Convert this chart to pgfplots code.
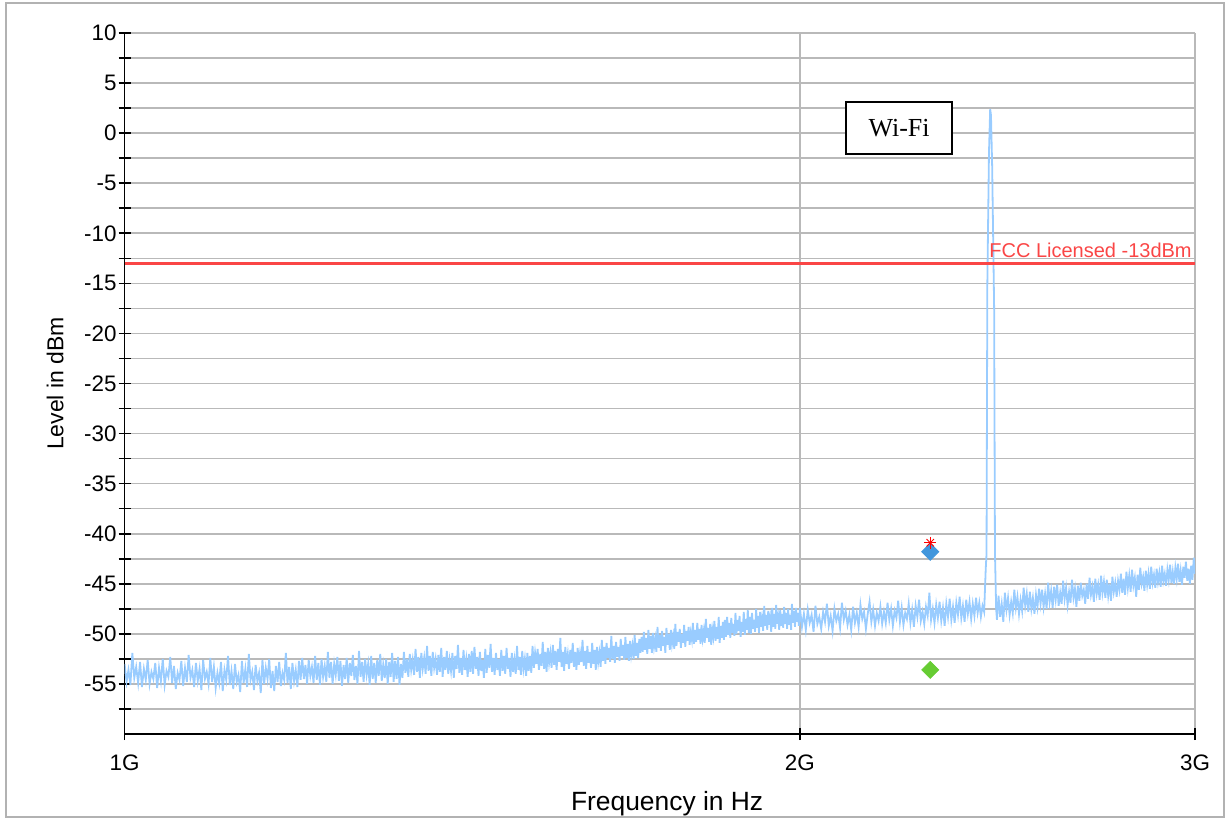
\documentclass[border=0pt]{standalone}
\usepackage{pgfplots}
\usepackage{pgfplotstable}
\pgfplotsset{compat=1.18}
\usepackage{fontspec}
\setmainfont{Liberation Sans}
\newfontfamily\seriffont{Liberation Serif}
\definecolor{tracecol}{RGB}{153,204,255}
\definecolor{gridcol}{RGB}{185,185,185}
\definecolor{fccred}{RGB}{250,70,70}
\definecolor{bluem}{RGB}{65,150,220}
\definecolor{greenm}{RGB}{102,204,51}

\pgfplotstableread[row sep=\\]{
f y \\
1000 -53.0 \\ 1002 -54.8 \\ 1004 -53.6 \\ 1006 -55.1 \\ 1008 -51.9 \\ 1010 -54.4 \\
1012 -53.3 \\ 1014 -54.9 \\ 1016 -52.8 \\ 1018 -55.3 \\ 1020 -53.5 \\ 1022 -54.6 \\
1024 -52.6 \\ 1026 -55.0 \\ 1028 -53.8 \\ 1030 -54.5 \\ 1032 -52.9 \\ 1034 -55.4 \\
1036 -53.4 \\ 1038 -54.7 \\ 1040 -52.5 \\ 1042 -55.1 \\ 1044 -53.7 \\ 1046 -54.3 \\
1048 -52.3 \\ 1050 -54.9 \\ 1052 -53.2 \\ 1054 -55.5 \\ 1056 -53.9 \\ 1058 -54.6 \\
1060 -52.7 \\ 1062 -55.2 \\ 1064 -53.4 \\ 1066 -54.8 \\ 1068 -52.1 \\ 1070 -54.4 \\
1072 -53.6 \\ 1074 -55.3 \\ 1076 -52.9 \\ 1078 -54.7 \\ 1080 -53.5 \\ 1082 -55.6 \\
1084 -52.6 \\ 1086 -54.5 \\ 1088 -53.8 \\ 1090 -55.0 \\ 1092 -52.4 \\ 1094 -54.8 \\
1096 -53.3 \\ 1098 -55.4 \\ 1100 -53.9 \\ 1102 -54.9 \\ 1104 -52.8 \\ 1106 -55.7 \\
1108 -53.6 \\ 1110 -54.6 \\ 1112 -52.2 \\ 1114 -55.1 \\ 1116 -53.7 \\ 1118 -55.5 \\
1120 -53.0 \\ 1122 -54.8 \\ 1124 -54.1 \\ 1126 -55.8 \\ 1128 -52.7 \\ 1130 -54.9 \\
1132 -53.5 \\ 1134 -55.3 \\ 1136 -52.0 \\ 1138 -54.6 \\ 1140 -53.8 \\ 1142 -55.6 \\
1144 -53.1 \\ 1146 -54.7 \\ 1148 -53.9 \\ 1150 -55.9 \\ 1152 -52.6 \\ 1154 -55.0 \\
1156 -53.4 \\ 1158 -54.5 \\ 1160 -52.5 \\ 1162 -55.4 \\ 1164 -53.7 \\ 1166 -55.7 \\
1168 -53.2 \\ 1170 -54.8 \\ 1172 -52.8 \\ 1174 -55.2 \\ 1176 -53.9 \\ 1178 -54.6 \\
1180 -51.9 \\ 1182 -54.9 \\ 1184 -53.3 \\ 1186 -55.5 \\ 1188 -52.9 \\ 1190 -54.7 \\
1192 -53.6 \\ 1194 -55.3 \\ 1196 -52.7 \\ 1198 -54.6 \\
1200 -52.4 \\ 1202 -54.5 \\ 1204 -53.1 \\ 1206 -55.0 \\ 1208 -52.6 \\ 1210 -54.2 \\
1212 -53.3 \\ 1214 -54.9 \\ 1216 -52.2 \\ 1218 -54.6 \\ 1220 -52.9 \\ 1222 -55.1 \\
1224 -52.5 \\ 1226 -54.3 \\ 1228 -53.2 \\ 1230 -54.8 \\ 1232 -51.8 \\ 1234 -54.4 \\
1236 -52.8 \\ 1238 -55.0 \\ 1240 -53.0 \\ 1242 -54.1 \\ 1244 -52.3 \\ 1246 -54.7 \\
1248 -52.7 \\ 1250 -55.2 \\ 1252 -53.1 \\ 1254 -54.5 \\ 1256 -52.4 \\ 1258 -54.9 \\
1260 -52.9 \\ 1262 -54.2 \\ 1264 -52.1 \\ 1266 -54.6 \\ 1268 -53.2 \\ 1270 -55.0 \\
1272 -51.7 \\ 1274 -54.3 \\ 1276 -52.8 \\ 1278 -54.8 \\ 1280 -52.5 \\ 1282 -54.1 \\
1284 -53.0 \\ 1286 -55.1 \\ 1288 -52.2 \\ 1290 -54.5 \\ 1292 -52.9 \\ 1294 -54.9 \\
1296 -52.6 \\ 1298 -54.2 \\ 1300 -52.0 \\ 1302 -54.7 \\ 1304 -53.1 \\ 1306 -54.4 \\
1308 -52.5 \\ 1310 -55.0 \\ 1312 -52.8 \\ 1314 -54.3 \\ 1316 -51.9 \\ 1318 -54.8 \\
1320 -52.7 \\ 1322 -54.5 \\ 1324 -52.3 \\ 1326 -55.1 \\ 1328 -53.0 \\ 1330 -54.4 \\
1332 -51.8 \\ 1334 -53.9 \\ 1336 -52.5 \\ 1338 -54.3 \\ 1340 -52.0 \\ 1342 -53.6 \\
1344 -52.6 \\ 1346 -54.1 \\ 1348 -51.5 \\ 1350 -53.8 \\ 1352 -52.3 \\ 1354 -54.4 \\
1356 -51.9 \\ 1358 -53.5 \\ 1360 -52.4 \\ 1362 -54.0 \\ 1364 -51.2 \\ 1366 -53.7 \\
1368 -52.2 \\ 1370 -54.2 \\ 1372 -51.8 \\ 1374 -53.4 \\ 1376 -52.5 \\ 1378 -54.1 \\
1380 -52.1 \\ 1382 -53.8 \\ 1384 -51.4 \\ 1386 -54.3 \\ 1388 -52.3 \\ 1390 -53.6 \\
1392 -51.7 \\ 1394 -54.0 \\ 1396 -52.6 \\ 1398 -53.7 \\ 1400 -51.9 \\ 1402 -54.4 \\
1404 -52.2 \\ 1406 -53.5 \\ 1408 -51.1 \\ 1410 -53.9 \\ 1412 -52.4 \\ 1414 -54.1 \\
1416 -51.6 \\ 1418 -53.6 \\ 1420 -52.5 \\ 1422 -54.3 \\ 1424 -52.0 \\ 1426 -53.8 \\
1428 -51.7 \\ 1430 -54.0 \\ 1432 -51.3 \\ 1434 -53.5 \\ 1436 -52.3 \\ 1438 -54.2 \\
1440 -51.8 \\ 1442 -53.7 \\ 1444 -52.6 \\ 1446 -54.4 \\ 1448 -51.5 \\ 1450 -53.9 \\
1452 -52.1 \\ 1454 -53.4 \\ 1456 -51.0 \\ 1458 -53.8 \\ 1460 -52.4 \\ 1462 -54.1 \\
1464 -51.9 \\ 1466 -53.6 \\ 1468 -52.5 \\ 1470 -54.2 \\ 1472 -51.6 \\ 1474 -53.7 \\
1476 -52.2 \\ 1478 -54.0 \\ 1480 -51.4 \\ 1482 -53.5 \\ 1484 -52.4 \\ 1486 -54.3 \\
1488 -51.9 \\ 1490 -53.8 \\ 1492 -52.6 \\ 1494 -54.0 \\ 1496 -51.2 \\ 1498 -53.6 \\
1500 -52.3 \\ 1502 -54.1 \\ 1504 -51.7 \\ 1506 -53.5 \\ 1508 -52.5 \\ 1510 -54.2 \\
1512 -51.9 \\ 1514 -53.7 \\ 1516 -52.2 \\ 1518 -53.9 \\
1520 -51.2 \\ 1522 -53.4 \\ 1524 -51.9 \\ 1526 -53.0 \\ 1528 -51.5 \\ 1530 -53.6 \\
1532 -52.0 \\ 1534 -53.2 \\ 1536 -50.8 \\ 1538 -53.5 \\ 1540 -51.8 \\ 1542 -53.8 \\
1544 -51.4 \\ 1546 -52.9 \\ 1548 -51.9 \\ 1550 -53.4 \\ 1552 -51.1 \\ 1554 -53.1 \\
1556 -51.7 \\ 1558 -53.6 \\ 1560 -51.5 \\ 1562 -52.8 \\ 1564 -50.4 \\ 1566 -53.3 \\
1568 -51.8 \\ 1570 -53.7 \\ 1572 -51.3 \\ 1574 -53.0 \\ 1576 -52.0 \\ 1578 -53.5 \\
1580 -51.6 \\ 1582 -52.9 \\ 1584 -50.9 \\ 1586 -53.3 \\ 1588 -51.8 \\ 1590 -53.6 \\
1592 -51.4 \\ 1594 -53.1 \\ 1596 -51.9 \\ 1598 -52.8 \\ 1600 -50.6 \\ 1602 -53.2 \\
1604 -51.7 \\ 1606 -53.5 \\ 1608 -51.2 \\ 1610 -52.9 \\ 1612 -51.8 \\ 1614 -53.4 \\
1616 -50.9 \\ 1618 -53.0 \\ 1620 -51.6 \\ 1622 -53.6 \\ 1624 -51.3 \\ 1626 -52.8 \\
1628 -51.9 \\ 1630 -53.3 \\
1632 -50.6 \\ 1634 -52.7 \\ 1636 -51.3 \\ 1638 -53.0 \\ 1640 -50.9 \\ 1642 -52.4 \\
1644 -51.4 \\ 1646 -52.8 \\ 1648 -50.2 \\ 1650 -52.5 \\ 1652 -51.2 \\ 1654 -52.9 \\
1656 -50.8 \\ 1658 -52.3 \\ 1660 -51.3 \\ 1662 -52.7 \\ 1664 -50.5 \\ 1666 -52.2 \\
1668 -51.1 \\ 1670 -52.6 \\ 1672 -50.3 \\ 1674 -52.4 \\ 1676 -51.0 \\ 1678 -52.7 \\
1680 -50.7 \\ 1682 -52.1 \\ 1684 -51.2 \\ 1686 -52.5 \\ 1688 -50.1 \\ 1690 -52.2 \\
1692 -50.9 \\ 1694 -52.4 \\ 1696 -50.5 \\ 1698 -51.9 \\
1700 -50.3 \\ 1702 -51.8 \\ 1704 -49.8 \\ 1706 -51.6 \\ 1708 -50.4 \\ 1710 -52.0 \\
1712 -49.6 \\ 1714 -51.5 \\ 1716 -50.2 \\ 1718 -51.9 \\ 1720 -49.9 \\ 1722 -51.3 \\
1724 -50.5 \\ 1726 -51.8 \\ 1728 -49.3 \\ 1730 -51.4 \\ 1732 -50.1 \\ 1734 -51.7 \\
1736 -49.7 \\ 1738 -51.2 \\ 1740 -50.3 \\ 1742 -51.9 \\ 1744 -49.4 \\ 1746 -51.1 \\
1748 -50.0 \\ 1750 -51.6 \\ 1752 -49.6 \\ 1754 -51.0 \\ 1756 -50.2 \\ 1758 -51.5 \\
1760 -49.0 \\ 1762 -51.2 \\ 1764 -49.8 \\ 1766 -50.8 \\ 1768 -49.5 \\ 1770 -51.4 \\
1772 -50.0 \\ 1774 -50.9 \\ 1776 -49.1 \\ 1778 -51.3 \\ 1780 -49.7 \\ 1782 -50.7 \\
1784 -49.3 \\ 1786 -51.1 \\ 1788 -49.9 \\ 1790 -50.6 \\ 1792 -48.9 \\ 1794 -51.0 \\
1796 -49.6 \\ 1798 -50.8 \\
1800 -48.9 \\ 1802 -50.6 \\ 1804 -49.5 \\ 1806 -51.0 \\ 1808 -49.1 \\ 1810 -50.5 \\
1812 -49.7 \\ 1814 -50.9 \\ 1816 -48.5 \\ 1818 -50.4 \\ 1820 -49.4 \\ 1822 -50.8 \\
1824 -49.0 \\ 1826 -51.1 \\ 1828 -49.6 \\ 1830 -50.3 \\ 1832 -48.7 \\ 1834 -50.7 \\
1836 -49.3 \\ 1838 -50.5 \\ 1840 -48.3 \\ 1842 -50.9 \\ 1844 -49.2 \\ 1846 -50.4 \\
1848 -48.8 \\ 1850 -50.6 \\
1852 -48.6 \\ 1854 -50.3 \\ 1856 -48.3 \\ 1858 -50.1 \\ 1860 -48.9 \\ 1862 -50.4 \\
1864 -48.4 \\ 1866 -49.9 \\ 1868 -49.0 \\ 1870 -50.2 \\ 1872 -47.9 \\ 1874 -50.0 \\
1876 -48.6 \\ 1878 -49.7 \\ 1880 -48.2 \\ 1882 -50.3 \\ 1884 -48.8 \\ 1886 -49.8 \\
1888 -47.8 \\ 1890 -50.1 \\ 1892 -48.5 \\ 1894 -49.6 \\ 1896 -47.6 \\ 1898 -49.9 \\
1900 -48.3 \\ 1902 -50.0 \\ 1904 -47.9 \\ 1906 -49.5 \\ 1908 -48.6 \\ 1910 -49.8 \\
1912 -47.5 \\ 1914 -49.4 \\ 1916 -48.2 \\ 1918 -49.9 \\ 1920 -47.8 \\ 1922 -49.3 \\
1924 -48.5 \\ 1926 -49.7 \\ 1928 -47.2 \\ 1930 -49.2 \\ 1932 -48.1 \\ 1934 -49.6 \\
1936 -47.7 \\ 1938 -49.1 \\ 1940 -48.4 \\ 1942 -49.8 \\ 1944 -47.4 \\ 1946 -49.3 \\
1948 -48.0 \\ 1950 -49.5 \\ 1952 -47.1 \\ 1954 -49.0 \\ 1956 -48.3 \\ 1958 -49.6 \\
1960 -47.6 \\ 1962 -49.2 \\ 1964 -48.0 \\ 1966 -49.4 \\ 1968 -47.3 \\ 1970 -49.0 \\
1972 -47.9 \\ 1974 -49.5 \\ 1976 -47.5 \\ 1978 -49.1 \\ 1980 -48.1 \\ 1982 -49.6 \\
1984 -47.0 \\ 1986 -48.9 \\ 1988 -47.7 \\ 1990 -49.3 \\ 1992 -47.4 \\ 1994 -48.8 \\
1996 -47.9 \\ 1998 -49.2 \\
2000 -47.4 \\ 2004 -49.3 \\ 2008 -48.0 \\
2012 -49.6 \\ 2016 -47.6 \\ 2020 -48.9 \\ 2024 -48.1 \\ 2028 -49.8 \\ 2032 -47.2 \\
2036 -49.0 \\ 2040 -48.3 \\ 2044 -49.5 \\ 2048 -47.8 \\ 2052 -48.8 \\ 2056 -47.0 \\
2060 -49.2 \\ 2064 -48.2 \\ 2068 -49.7 \\ 2072 -47.5 \\ 2076 -48.7 \\ 2080 -48.0 \\
2084 -49.4 \\ 2088 -46.9 \\ 2092 -48.6 \\ 2096 -47.7 \\ 2100 -49.1 \\ 2104 -48.1 \\
2108 -49.6 \\ 2112 -47.3 \\ 2116 -48.9 \\ 2120 -47.9 \\ 2124 -49.3 \\ 2128 -47.1 \\
2132 -48.5 \\ 2136 -47.8 \\ 2140 -49.5 \\ 2144 -48.0 \\ 2148 -46.8 \\ 2152 -48.8 \\
2156 -47.6 \\ 2160 -49.2 \\ 2164 -47.9 \\ 2168 -48.7 \\ 2172 -47.3 \\ 2176 -49.0 \\
2180 -47.8 \\ 2184 -48.9 \\ 2188 -46.9 \\ 2192 -48.6 \\ 2196 -47.5 \\ 2200 -49.2 \\
2204 -47.7 \\ 2208 -48.4 \\ 2212 -46.7 \\ 2216 -48.8 \\ 2220 -47.4 \\ 2224 -49.1 \\
2228 -47.9 \\ 2232 -48.5 \\ 2236 -47.0 \\ 2240 -48.9 \\ 2244 -47.6 \\ 2248 -49.3 \\
2252 -47.2 \\ 2256 -48.3 \\ 2260 -46.6 \\ 2264 -48.7 \\ 2268 -47.8 \\ 2272 -49.0 \\
2276 -47.3 \\ 2280 -48.2 \\ 2284 -45.9 \\ 2288 -48.6 \\ 2292 -47.5 \\ 2296 -48.9 \\
2300 -47.1 \\ 2304 -48.4 \\ 2308 -46.8 \\ 2312 -48.7 \\ 2316 -47.4 \\ 2320 -49.2 \\
2324 -47.0 \\ 2328 -48.3 \\ 2332 -46.5 \\ 2336 -48.6 \\ 2340 -47.3 \\ 2344 -48.9 \\
2348 -46.9 \\ 2352 -48.1 \\ 2356 -46.3 \\ 2360 -48.4 \\ 2364 -47.2 \\ 2368 -48.8 \\
2372 -46.6 \\ 2376 -48.0 \\ 2380 -46.8 \\ 2384 -48.5 \\ 2388 -47.0 \\ 2392 -48.2 \\
2396 -46.4 \\ 2400 -47.9 \\ 2404 -46.9 \\ 2408 -48.3 \\ 2412 -47.2 \\ 2416 -47.8 \\
2420 -43.5 \\ 2422 -42.0 \\ 2424 -15.0 \\ 2428 -2.0 \\ 2431 2.4 \\ 2433 1.8 \\
2436 -3.4 \\ 2441 -17.5 \\ 2443 -42.0 \\ 2446 -47.5 \\
2448 -48.6 \\ 2452 -46.2 \\ 2456 -48.3 \\ 2460 -47.0 \\ 2464 -48.8 \\ 2468 -45.9 \\
2472 -47.6 \\ 2476 -46.4 \\ 2480 -48.1 \\ 2484 -46.8 \\ 2488 -47.9 \\ 2492 -45.6 \\
2496 -47.4 \\ 2500 -46.3 \\ 2504 -48.0 \\ 2508 -46.6 \\ 2512 -47.7 \\ 2516 -45.4 \\
2520 -47.2 \\ 2524 -46.0 \\ 2528 -47.8 \\ 2532 -45.8 \\ 2536 -47.5 \\ 2540 -46.4 \\
2544 -48.0 \\ 2548 -46.1 \\ 2552 -47.3 \\ 2556 -45.5 \\ 2560 -47.0 \\ 2564 -45.6 \\
2568 -47.3 \\ 2572 -46.0 \\ 2576 -47.5 \\ 2580 -44.9 \\ 2584 -46.8 \\ 2588 -45.7 \\
2592 -47.4 \\ 2596 -45.3 \\ 2600 -46.6 \\ 2604 -45.1 \\ 2608 -47.2 \\ 2612 -45.9 \\
2616 -47.0 \\ 2620 -44.7 \\ 2624 -46.5 \\ 2628 -45.4 \\ 2632 -47.1 \\ 2636 -45.8 \\
2640 -46.9 \\ 2644 -44.6 \\ 2648 -46.4 \\ 2652 -45.5 \\ 2656 -47.3 \\ 2660 -45.2 \\
2664 -46.7 \\ 2668 -44.9 \\ 2672 -46.2 \\ 2676 -45.6 \\ 2680 -47.0 \\ 2684 -45.0 \\
2688 -46.5 \\ 2692 -44.4 \\ 2696 -46.1 \\ 2700 -45.3 \\ 2704 -46.8 \\ 2708 -44.5 \\
2712 -46.0 \\ 2716 -45.1 \\ 2720 -46.6 \\ 2724 -44.2 \\ 2728 -45.9 \\ 2732 -44.8 \\
2736 -46.4 \\ 2740 -44.6 \\ 2744 -46.2 \\ 2748 -45.0 \\ 2752 -46.7 \\ 2756 -44.3 \\
2760 -45.8 \\ 2764 -44.9 \\ 2768 -46.3 \\ 2772 -44.7 \\ 2776 -45.6 \\ 2780 -44.0 \\
2784 -45.9 \\ 2788 -44.5 \\ 2792 -46.1 \\ 2796 -43.8 \\ 2800 -45.4 \\ 2804 -44.2 \\
2808 -45.8 \\ 2812 -43.6 \\ 2816 -45.2 \\ 2820 -44.4 \\ 2824 -46.3 \\ 2828 -44.1 \\
2832 -45.6 \\ 2836 -43.4 \\ 2840 -45.0 \\ 2844 -44.3 \\ 2848 -45.7 \\ 2852 -43.7 \\
2856 -45.1 \\ 2860 -44.0 \\ 2864 -45.5 \\ 2868 -43.3 \\ 2872 -44.9 \\ 2876 -44.1 \\
2880 -45.4 \\ 2884 -43.5 \\ 2888 -44.8 \\ 2892 -43.9 \\ 2896 -45.3 \\ 2900 -43.2 \\
2904 -44.7 \\ 2908 -44.0 \\ 2912 -45.2 \\ 2916 -43.6 \\ 2920 -44.6 \\ 2924 -43.1 \\
2928 -44.9 \\ 2932 -43.8 \\ 2936 -45.0 \\ 2940 -43.4 \\ 2944 -44.5 \\ 2948 -43.0 \\
2952 -44.8 \\ 2956 -43.7 \\ 2960 -45.1 \\ 2964 -43.3 \\ 2968 -44.4 \\ 2972 -42.8 \\
2976 -44.7 \\ 2980 -43.5 \\ 2984 -45.0 \\ 2988 -43.2 \\ 2992 -44.6 \\ 2996 -42.4 \\
3000 -44.0 \\
}\noisetable

\begin{document}
\begin{tikzpicture}
\useasboundingbox (-62.25pt,-42.5pt) rectangle (550.25pt,367pt);
\draw[gray!60, line width=0.7pt] (-59.25pt,365.5pt) rectangle (549.75pt,-41.5pt);
\begin{axis}[
  at={(0pt,0pt)}, anchor=south west,
  scale only axis, width=535.25pt, height=350.5pt,
  xmode=log, xmin=1000, xmax=3000, ymin=-60, ymax=10,
  axis x line*=bottom, axis y line*=left,
  axis line style={-, black, line width=0.9pt},
  xtick={1000,2000,3000}, xticklabels={1G,2G,3G},
  xminorticks=false,
  ytick={-55,-50,-45,-40,-35,-30,-25,-20,-15,-10,-5,0,5,10},
  yticklabels={-55,-50,-45,-40,-35,-30,-25,-20,-15,-10,-5,0,5,10},
  minor ytick={-57.5,-52.5,-47.5,-42.5,-37.5,-32.5,-27.5,-22.5,-17.5,-12.5,-7.5,-2.5,2.5,7.5},
  tick align=center,
  major tick length=6pt, minor tick length=6pt,
  tick style={black, line width=0.8pt},
  xmajorgrids, ymajorgrids, yminorgrids,
  major grid style={draw=gridcol, line width=0.8pt},
  minor grid style={draw=gridcol, line width=0.8pt},
  tick label style={font=\fontsize{11.2}{13}\selectfont},
  yticklabel style={anchor=east, inner sep=0pt, xshift=-0.8pt},
  xticklabel style={anchor=north, inner sep=0pt, yshift=-7pt},
  xlabel={Frequency in Hz},
  ylabel={Level in dBm},
  xlabel style={at={(axis description cs:0.5068,-0.0991)}, anchor=center, font=\fontsize{13.2}{15}\selectfont},
  ylabel style={at={(axis description cs:-0.0649,0.5)}, anchor=center, font=\fontsize{11.5}{14}\selectfont},
  clip=true,
]
\addplot[tracecol, line width=0.9pt, no markers] table[x=f, y=y] {\noisetable};
\addplot[fccred, line width=1.5pt, no markers] coordinates {(1000,-13) (3000,-13)};
\addplot[only marks, mark=square*, mark size=3pt, mark options={rotate=45, fill=bluem, draw=bluem}] coordinates {(2286,-41.8)};
\addplot[only marks, mark=square*, mark size=3pt, mark options={rotate=45, fill=greenm, draw=greenm}] coordinates {(2286,-53.6)};
\addplot[only marks, mark=+, mark size=3pt, mark options={red, line width=0.5pt}] coordinates {(2286,-40.9)};
\addplot[only marks, mark=x, mark size=2.6pt, mark options={red, line width=0.5pt}] coordinates {(2286,-40.9)};
\node[anchor=south east, text=fccred, inner sep=0pt, font=\fontsize{10}{12}\selectfont, xshift=-1.5pt, yshift=2.5pt] at (axis cs:3000,-13) {FCC Licensed -13dBm};
\node[draw=black, line width=1pt, fill=white, minimum width=53pt, minimum height=26pt, inner sep=0pt, font=\seriffont\fontsize{13}{15}\selectfont] at (axis cs:2214,0.5) {Wi-Fi};
\end{axis}
\end{tikzpicture}
\end{document}
